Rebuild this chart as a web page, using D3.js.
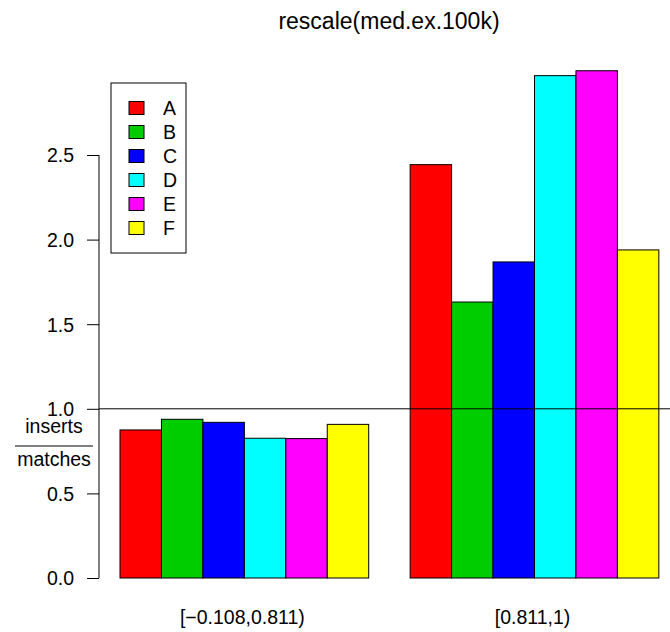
<!DOCTYPE html>
<html>
<head>
<meta charset="utf-8">
<script src="https://cdn.jsdelivr.net/npm/d3@7.9.0/dist/d3.min.js"></script>
<style>
  body { margin: 0; background: #fff; }
  svg text { font-family: "Liberation Sans", Arial, sans-serif; }
</style>
</head>
<body>
<svg id="chart" width="670" height="632"></svg>
<script>
const groups = ['[\u22120.108,0.811)', '[0.811,1)'];
const series = ['A', 'B', 'C', 'D', 'E', 'F'];
const colors = ['#ff0000', '#00cd00', '#0000ff', '#00ffff', '#ff00ff', '#ffff00'];
const valuesLow = [0.875, 0.938, 0.920, 0.826, 0.824, 0.908];
const valuesHigh = [2.443, 1.631, 1.868, 2.969, 2.998, 1.939];
const yTicks = [0.0, 0.5, 1.0, 1.5, 2.0, 2.5];

const groupValues = [valuesLow, valuesHigh];
const fontSize = 19.5;

const svg = d3.select('#chart');

// bar slots in R barplot units: each group 6 wide, 1 gap between
let x = d3.scaleLinear().domain([0, 1]).range([78.55, 120]);
let y = d3.scaleLinear().domain([0, 1]).range([578, 408.8]);

let bars = [];
groupValues.forEach((vals, g) => {
  vals.forEach((v, i) => {
    let start = 1 + g * 7 + i;
    bars.push({ start: start, value: v, color: colors[i] });
  });
});

svg.selectAll('rect.bar')
  .data(bars)
  .enter()
  .append('rect')
  .attr('class', 'bar')
  .attr('x', (d) => x(d.start))
  .attr('width', (d) => x(d.start + 1) - x(d.start))
  .attr('y', (d) => y(d.value))
  .attr('height', (d) => y(0) - y(d.value))
  .attr('fill', (d) => d.color)
  .attr('stroke', '#000')
  .attr('stroke-width', 1);

// reference line at 1
svg.append('line')
  .attr('x1', 99).attr('x2', 670)
  .attr('y1', y(1)).attr('y2', y(1))
  .attr('stroke', '#000');

// y axis
let axisG = svg.append('g').attr('transform', 'translate(99,0)');
axisG.call(d3.axisLeft(y).tickValues(yTicks).tickFormat(d3.format('.1f')).tickSize(12).tickSizeOuter(0));
axisG.select('.domain').attr('d', `M0,${y(0)}V${y(2.5)}`);
axisG.selectAll('text')
  .attr('font-size', fontSize)
  .attr('font-family', 'Liberation Sans, Arial, sans-serif')
  .attr('fill', '#000')
  .attr('x', -25)
  .attr('dy', '0.35em');
axisG.selectAll('line').attr('stroke', '#000');

// y label as fraction
svg.append('text').attr('x', 54).attr('y', 433).attr('text-anchor', 'middle')
  .attr('font-size', fontSize).text('inserts');
svg.append('line').attr('x1', 15).attr('x2', 93).attr('y1', 446).attr('y2', 446)
  .attr('stroke', '#000');
svg.append('text').attr('x', 54).attr('y', 466).attr('text-anchor', 'middle')
  .attr('font-size', fontSize).text('matches');

// x group labels
groups.forEach((gname, g) => {
  svg.append('text')
    .attr('x', x(1 + g * 7 + 3) - 2)
    .attr('y', 624)
    .attr('text-anchor', 'middle')
    .attr('font-size', fontSize)
    .text(gname);
});

// title
svg.append('text')
  .attr('x', 389).attr('y', 28.5)
  .attr('text-anchor', 'middle')
  .attr('font-size', 23)
  .text('rescale(med.ex.100k)');

// legend
let legend = svg.append('g');
legend.append('rect')
  .attr('x', 111).attr('y', 83).attr('width', 75).attr('height', 170)
  .attr('fill', '#fff').attr('stroke', '#000');
series.forEach((s, i) => {
  let cy = 108 + i * 24;
  legend.append('rect')
    .attr('x', 129).attr('y', cy - 6.5).attr('width', 15).attr('height', 13)
    .attr('fill', colors[i]).attr('stroke', '#000');
  legend.append('text')
    .attr('x', 163).attr('y', cy).attr('dy', '0.36em')
    .attr('font-size', fontSize)
    .text(s);
});
</script>
</body>
</html>
